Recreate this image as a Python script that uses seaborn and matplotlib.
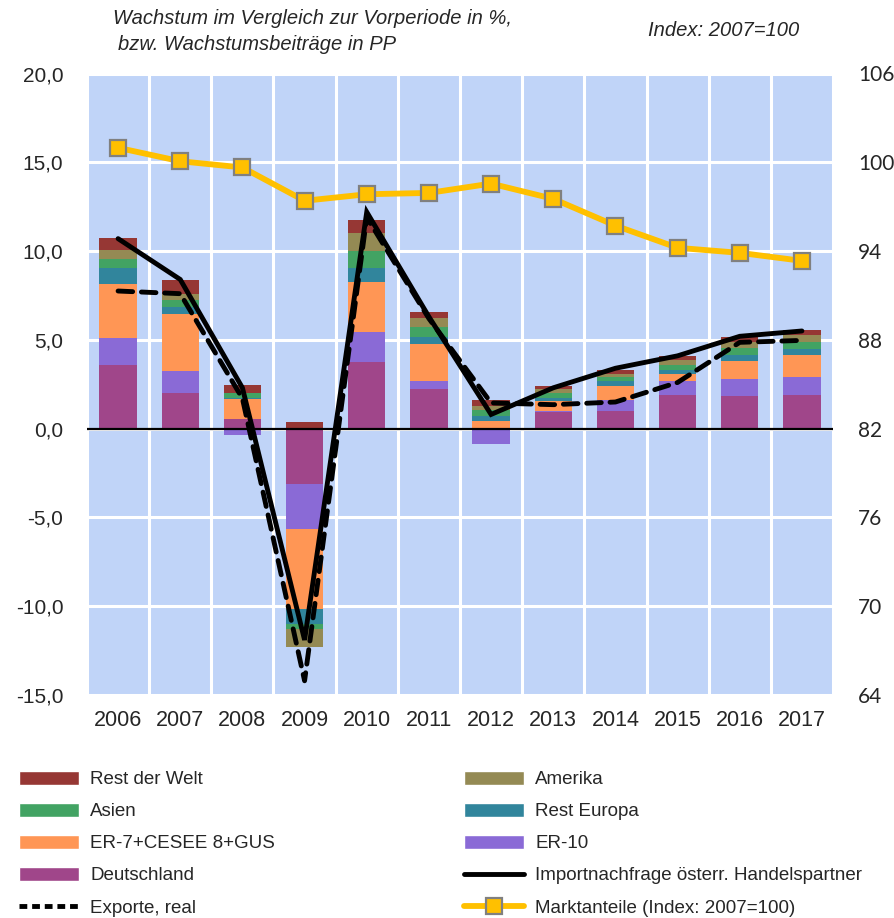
import numpy as np
import pandas as pd
import matplotlib
matplotlib.use("Agg")
import matplotlib.pyplot as plt
from matplotlib.patches import Patch
from matplotlib.lines import Line2D
import seaborn as sns

# ---------------- data ----------------
years = ["2006", "2007", "2008", "2009", "2010", "2011",
         "2012", "2013", "2014", "2015", "2016", "2017"]

deutschland = [3.57, 2.03, 0.55, -3.10, 3.77, 2.23, 0.00, 0.96, 1.01, 1.92, 1.86, 1.92]
er10        = [1.54, 1.24, -0.33, -2.55, 1.69, 0.47, -0.85, 0.05, 0.59, 0.75, 0.96, 1.01]
er7_cesee   = [3.04, 3.17, 1.13, -4.50, 2.78, 2.07, 0.41, 0.57, 0.82, 0.43, 1.01, 1.20]
rest_europa = [0.90, 0.40, 0.05, -0.85, 0.81, 0.37, 0.30, 0.13, 0.25, 0.22, 0.34, 0.38]
asien       = [0.51, 0.43, 0.30, -0.30, 0.98, 0.59, 0.36, 0.30, 0.22, 0.28, 0.38, 0.39]
amerika     = [0.52, 0.33, 0.00, -1.00, 0.99, 0.48, 0.23, 0.20, 0.21, 0.29, 0.33, 0.36]
rest_welt   = [0.66, 0.79, 0.45, 0.38, 0.75, 0.36, 0.30, 0.18, 0.22, 0.18, 0.29, 0.28]

importnachfrage = [10.7, 8.4, 2.3, -11.9, 12.2, 6.3, 0.8, 2.3, 3.4, 4.1, 5.2, 5.5]
exporte_real    = [7.75, 7.6, 1.7, -14.2, 11.9, 6.2, 1.45, 1.35, 1.5, 2.6, 4.86, 4.97]
marktanteile    = [100.98, 100.07, 99.65, 97.4, 97.84, 97.93, 98.56, 97.53, 95.72, 94.22, 93.88, 93.34]

layer_names = ["Deutschland", "ER-10", "ER-7+CESEE 8+GUS", "Rest Europa",
               "Asien", "Amerika", "Rest der Welt"]
layer_values = [deutschland, er10, er7_cesee, rest_europa, asien, amerika, rest_welt]
layer_colors = ["#A0468A", "#8A6AD6", "#FF9655", "#31859C",
                "#42A363", "#948A54", "#963734"]

left_ticks = [-15, -10, -5, 0, 5, 10, 15, 20]
right_ticks = [64, 70, 76, 82, 88, 94, 100, 106]

# ---------------- figure ----------------
sns.set_style("white")
plt.rcParams["font.family"] = ["Liberation Sans", "DejaVu Sans"]

W, H = 895, 918
fig = plt.figure(figsize=(W / 100, H / 100), dpi=100)
px_l, px_r, px_t, px_b = 87, 833, 73.5, 695
ax = fig.add_axes([px_l / W, 1 - px_b / H, (px_r - px_l) / W, (px_b - px_t) / H])
ax.set_facecolor("#C0D4F8")

pos_bottom = np.zeros(len(years))
neg_bottom = np.zeros(len(years))
for name, vals, col in zip(layer_names, layer_values, layer_colors):
    v = np.array(vals, dtype=float)
    bottom = np.where(v >= 0, pos_bottom, neg_bottom)
    df = pd.DataFrame({"Jahr": years, "Wert": v})
    sns.barplot(data=df, x="Jahr", y="Wert", order=years, color=col,
                saturation=1, width=0.6, errorbar=None, bottom=bottom,
                linewidth=0, ax=ax, zorder=2)
    pos_bottom = pos_bottom + np.where(v >= 0, v, 0)
    neg_bottom = neg_bottom + np.where(v < 0, v, 0)

xpos = np.arange(len(years))
ax.axhline(0, color="black", lw=1.6, zorder=3)
sns.lineplot(x=xpos, y=importnachfrage, ax=ax, color="black", lw=3.5,
             zorder=5, solid_capstyle="round", solid_joinstyle="miter")
sns.lineplot(x=xpos, y=exporte_real, ax=ax, color="black", lw=3.5,
             linestyle=(0, (3.0, 1.8)), dash_capstyle="round", zorder=6)

ax.set_ylim(-15, 20)
ax.set_xlim(-0.5, 11.5)
ax.set_yticks(left_ticks)
ax.set_yticklabels([f"{t:.1f}".replace(".", ",") for t in left_ticks])
ax.set_xticks(xpos)
ax.set_xticklabels(years)
ax.set_xticks(np.arange(-0.5, 12, 1), minor=True)
ax.set_axisbelow(True)
ax.grid(False)
ax.yaxis.grid(True, which="major", color="white", lw=2.2)
ax.xaxis.grid(True, which="minor", color="white", lw=2.2)
ax.tick_params(axis="y", which="both", length=0, pad=17, labelsize=15)
ax.tick_params(axis="x", which="both", length=0, pad=11, labelsize=15.5)
ax.set_xlabel("")
ax.set_ylabel("")
for s in ax.spines.values():
    s.set_visible(False)

ax2 = ax.twinx()
sns.lineplot(x=xpos, y=marktanteile, ax=ax2, color="#FFC000", lw=4.2,
             marker="s", markersize=11, markerfacecolor="#FFC000",
             markeredgecolor="#808080", markeredgewidth=1.6, zorder=7)
ax2.set_ylim(64, 106)
ax2.set_yticks(right_ticks)
ax2.set_yticklabels([str(t) for t in right_ticks], family=["Lato", "DejaVu Sans"])
ax2.tick_params(axis="y", length=0, pad=18, labelsize=15)
ax2.set_xlim(-0.5, 11.5)
ax2.set_ylabel("")
ax2.grid(False)
for s in ax2.spines.values():
    s.set_visible(False)

# ---------------- titles ----------------
fig.text(113 / W, 1 - 19 / H, "Wachstum im Vergleich zur Vorperiode in %,",
         style="italic", fontsize=14.5, ha="left", va="center")
fig.text(118 / W, 1 - 45 / H, "bzw. Wachstumsbeiträge in PP",
         style="italic", fontsize=14.5, ha="left", va="center")
fig.text(648 / W, 1 - 30 / H, "Index: 2007=100",
         style="italic", fontsize=14.5, ha="left", va="center")

# ---------------- legend ----------------
col_map = dict(zip(layer_names, layer_colors))
h_imp = Line2D([], [], color="black", lw=3.5)
h_exp = Line2D([], [], color="black", lw=3.5, linestyle=(0, (1.6, 1.0)))
h_mkt = Line2D([], [], color="#FFC000", lw=4.2, marker="s", markersize=11,
               markerfacecolor="#FFC000", markeredgecolor="#808080",
               markeredgewidth=1.6)
col1 = [(Patch(facecolor=col_map["Rest der Welt"]), "Rest der Welt"),
        (Patch(facecolor=col_map["Asien"]), "Asien"),
        (Patch(facecolor=col_map["ER-7+CESEE 8+GUS"]), "ER-7+CESEE 8+GUS"),
        (Patch(facecolor=col_map["Deutschland"]), "Deutschland"),
        (h_exp, "Exporte, real")]
col2 = [(Patch(facecolor=col_map["Amerika"]), "Amerika"),
        (Patch(facecolor=col_map["Rest Europa"]), "Rest Europa"),
        (Patch(facecolor=col_map["ER-10"]), "ER-10"),
        (h_imp, "Importnachfrage österr. Handelspartner"),
        (h_mkt, "Marktanteile (Index: 2007=100)")]
for items, x0 in ((col1, 19), (col2, 464)):
    fig.legend([h for h, _ in items], [l for _, l in items],
               loc="upper left", bbox_to_anchor=(x0 / W, 1 - 771 / H),
               ncol=1, frameon=False, fontsize=13.5, handlelength=3.2,
               handleheight=0.75, handletextpad=0.6, labelspacing=0.78,
               borderpad=0, borderaxespad=0)

fig.savefig("out.png", dpi=100)
